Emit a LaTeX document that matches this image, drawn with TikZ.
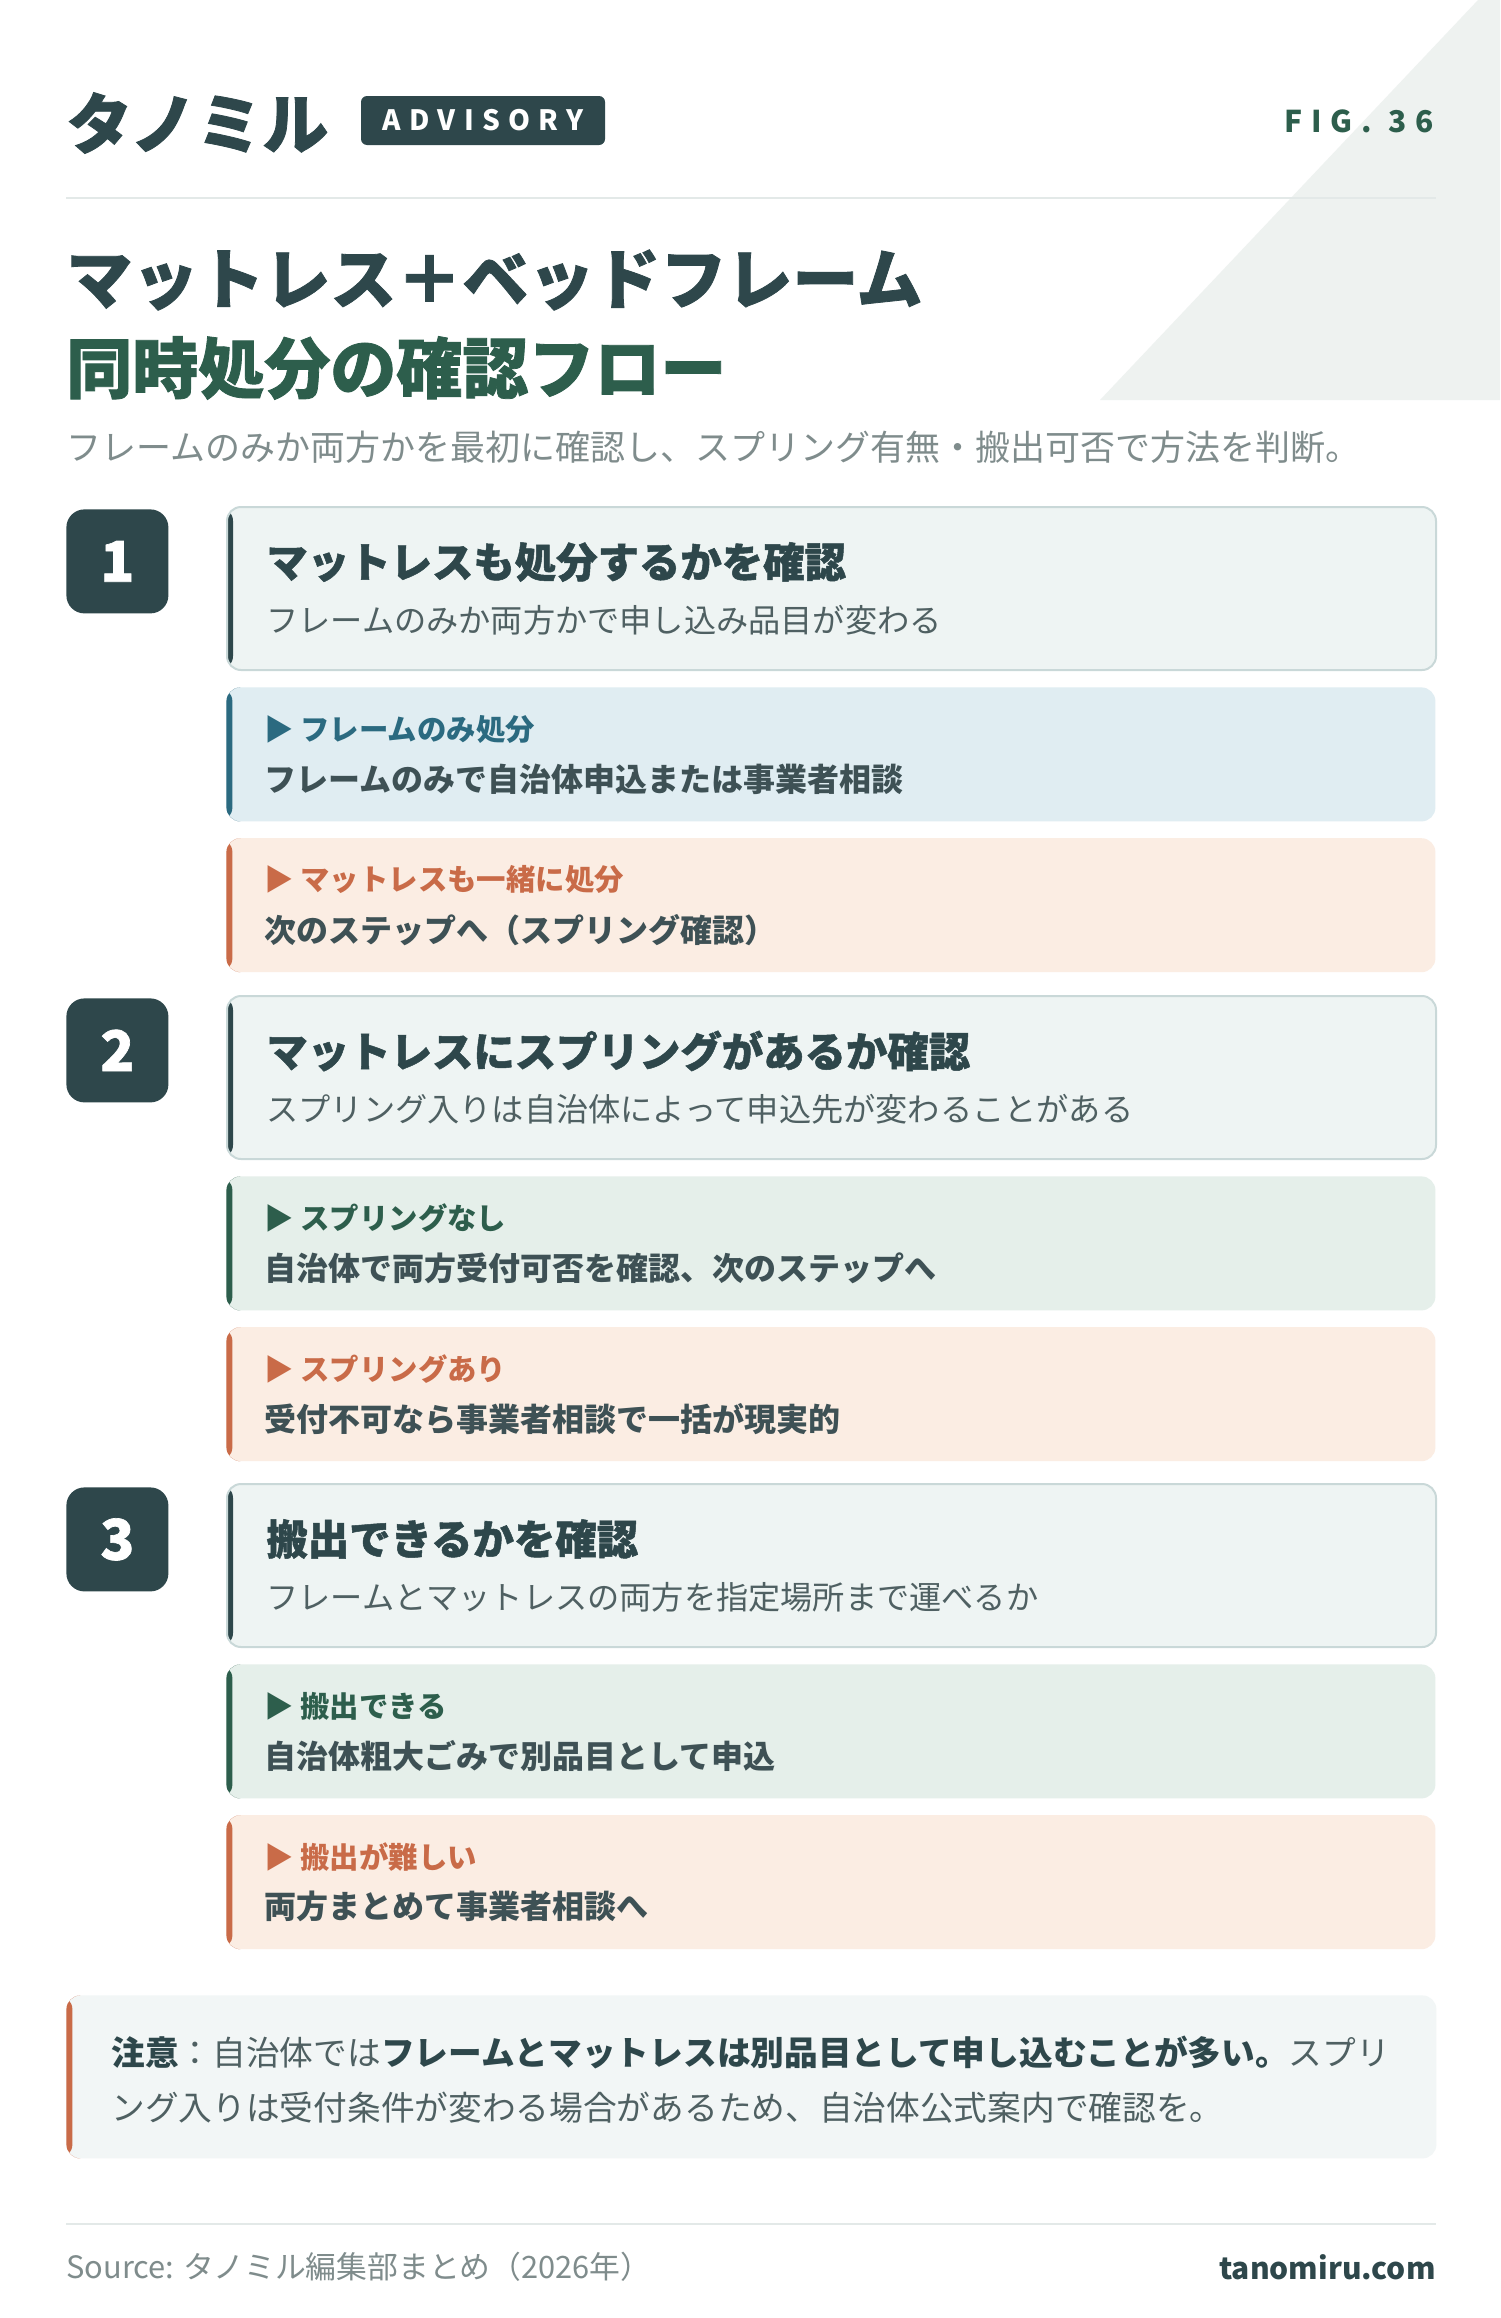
\documentclass[tikz,border=0pt]{standalone}
\usepackage{fontspec}
\setmainfont{Noto Sans CJK JP}
\newfontfamily\heavyfont{Noto Sans CJK JP}[BoldFeatures={FakeBold=1.2}]
\usetikzlibrary{positioning}

\definecolor{slate}{HTML}{2E474B}
\definecolor{forest}{HTML}{2D5E4C}
\definecolor{mist}{HTML}{7F8C8C}
\definecolor{ink}{HTML}{3E5155}
\definecolor{inkmid}{HTML}{4F6062}
\definecolor{cardbg}{HTML}{EEF4F3}
\definecolor{cardline}{HTML}{C9D8D8}
\definecolor{bluebg}{HTML}{E0EDF2}
\definecolor{blueacc}{HTML}{2B6A80}
\definecolor{greenbg}{HTML}{E5EFEA}
\definecolor{orangebg}{HTML}{FBEDE3}
\definecolor{orangeacc}{HTML}{C96B48}
\definecolor{notebg}{HTML}{F2F6F6}
\definecolor{tribg}{HTML}{EEF2F0}
\definecolor{rulecol}{HTML}{E3E9E8}

\begin{document}
\begin{tikzpicture}[x=0.5pt, y=-0.5pt,
  accent/.style={path picture={\fill[#1] (path picture bounding box.north west) rectangle ([xshift=3pt]path picture bounding box.south west);}}]
				\tikzstyle{card} = [draw=cardline, line width=1pt, fill=cardbg, rounded corners=7pt, minimum width=604.5pt, minimum height=81.5pt, anchor=north west, inner sep=0pt, accent=slate]
				\tikzstyle{subbox} = [rounded corners=7pt, minimum width=604.5pt, minimum height=67pt, inner sep=0pt]
				\tikzstyle{badge} = [fill=slate, rounded corners=9pt, minimum width=51pt, minimum height=52pt, anchor=north west, inner sep=0pt, text=white, font=\fontsize{28}{33}\heavyfont\bfseries]
				\tikzstyle{ctitle} = [anchor=west, inner sep=0pt, text=slate, font=\fontsize{20.7}{25}\heavyfont\bfseries]
				\tikzstyle{csub} = [anchor=west, inner sep=0pt, text=inkmid, font=\fontsize{16.1}{19}\selectfont]
				\tikzstyle{slabel} = [anchor=west, inner sep=0pt, font=\fontsize{14.7}{17}\selectfont\bfseries]
				\tikzstyle{stext} = [anchor=west, inner sep=0pt, text=ink, font=\fontsize{16}{19}\selectfont\bfseries]
				\tikzstyle{plain} = [anchor=west, inner sep=0pt]
				
				\useasboundingbox[fill=white] (0,0) rectangle (1500,2318);
				\fill[tribg] (1100,400) -- (1478,0) -- (1500,0) -- (1500,400) -- cycle;
				
				% header
				\node[plain, text=slate, font=\fontsize{33}{39}\heavyfont\bfseries] (logo) at (66,123) {タノミル};
				\node[fill=slate, rounded corners=3pt, minimum width=122pt, minimum height=24.5pt, inner sep=0pt, text=white,
				      font=\fontsize{14}{17}\selectfont\bfseries\addfontfeatures{LetterSpace=30}] (adv) at (483,120.5) {ADVISORY};
				\node[anchor=east, inner sep=0pt, text=forest, font=\fontsize{15}{18}\selectfont\bfseries\addfontfeatures{LetterSpace=30}] (fig) at (1434,121) {FIG. 36};
				\draw[rulecol, line width=1pt] (66,198) -- (1436,198);
				
				\node[plain, text=slate, font=\fontsize{33}{40}\heavyfont\bfseries] (t1) at (66,280) {マットレス＋ベッドフレーム};
				\node[plain, text=forest, font=\fontsize{33}{40}\heavyfont\bfseries] (t2) at (66,368) {同時処分の確認フロー};
				\node[plain, text=mist, font=\fontsize{17.5}{21}\selectfont] (lead) at (66,447) {フレームのみか両方かを最初に確認し、スプリング有無・搬出可否で方法を判断。};
				
				% step 1
				\node[badge] (b1) at (66,509) {1};
				\node[card] (c1) at (226,506) {};
				\node[ctitle] (c1t) at ([xshift=20pt, yshift=-28pt]c1.north west) {マットレスも処分するかを確認};
				\node[csub] (c1s) at ([xshift=20pt, yshift=-57pt]c1.north west) {フレームのみか両方かで申し込み品目が変わる};
				\node[subbox, fill=bluebg, accent=blueacc, below=8pt of c1.south west, anchor=north west] (s1a) {};
				\node[slabel, text=blueacc] (s1al) at ([xshift=19pt, yshift=-21pt]s1a.north west) {▶ フレームのみ処分};
				\node[stext] (s1at) at ([xshift=19pt, yshift=-46pt]s1a.north west) {フレームのみで自治体申込または事業者相談};
				\node[subbox, fill=orangebg, accent=orangeacc, below=8pt of s1a.south west, anchor=north west] (s1b) {};
				\node[slabel, text=orangeacc] (s1bl) at ([xshift=19pt, yshift=-21pt]s1b.north west) {▶ マットレスも一緒に処分};
				\node[stext] (s1bt) at ([xshift=19pt, yshift=-46pt]s1b.north west) {次のステップへ（スプリング確認）};
				
				% step 2
				\node[badge] (b2) at (66,998) {2};
				\node[card] (c2) at (226,995) {};
				\node[ctitle] (c2t) at ([xshift=20pt, yshift=-28pt]c2.north west) {マットレスにスプリングがあるか確認};
				\node[csub] (c2s) at ([xshift=20pt, yshift=-57pt]c2.north west) {スプリング入りは自治体によって申込先が変わることがある};
				\node[subbox, fill=greenbg, accent=forest, below=8pt of c2.south west, anchor=north west] (s2a) {};
				\node[slabel, text=forest] (s2al) at ([xshift=19pt, yshift=-21pt]s2a.north west) {▶ スプリングなし};
				\node[stext] (s2at) at ([xshift=19pt, yshift=-46pt]s2a.north west) {自治体で両方受付可否を確認、次のステップへ};
				\node[subbox, fill=orangebg, accent=orangeacc, below=8pt of s2a.south west, anchor=north west] (s2b) {};
				\node[slabel, text=orangeacc] (s2bl) at ([xshift=19pt, yshift=-21pt]s2b.north west) {▶ スプリングあり};
				\node[stext] (s2bt) at ([xshift=19pt, yshift=-46pt]s2b.north west) {受付不可なら事業者相談で一括が現実的};
				
				% step 3
				\node[badge] (b3) at (66,1487) {3};
				\node[card] (c3) at (226,1483) {};
				\node[ctitle] (c3t) at ([xshift=20pt, yshift=-28pt]c3.north west) {搬出できるかを確認};
				\node[csub] (c3s) at ([xshift=20pt, yshift=-57pt]c3.north west) {フレームとマットレスの両方を指定場所まで運べるか};
				\node[subbox, fill=greenbg, accent=forest, below=8pt of c3.south west, anchor=north west] (s3a) {};
				\node[slabel, text=forest] (s3al) at ([xshift=19pt, yshift=-21pt]s3a.north west) {▶ 搬出できる};
				\node[stext] (s3at) at ([xshift=19pt, yshift=-46pt]s3a.north west) {自治体粗大ごみで別品目として申込};
				\node[subbox, fill=orangebg, accent=orangeacc, below=8pt of s3a.south west, anchor=north west] (s3b) {};
				\node[slabel, text=orangeacc] (s3bl) at ([xshift=19pt, yshift=-21pt]s3b.north west) {▶ 搬出が難しい};
				\node[stext] (s3bt) at ([xshift=19pt, yshift=-46pt]s3b.north west) {両方まとめて事業者相談へ};
				
				% note
				\node[subbox, fill=notebg, accent=orangeacc, minimum width=685pt, minimum height=81.5pt, anchor=north west] (note) at (66,1995) {};
				\node[plain, align=left, text=inkmid, font=\fontsize{16.85}{27.5}\selectfont] (notet) at ([xshift=22.5pt, yshift=-1.5pt]note.west)
				  {{\color{slate}\bfseries 注意}：自治体では{\color{slate}\bfseries フレームとマットレスは別品目として申し込むことが多い。}スプリ\\ング入りは受付条件が変わる場合があるため、自治体公式案内で確認を。};
				
				% footer
				\draw[rulecol, line width=1pt] (66,2224) -- (1436,2224);
				\node[plain, text=mist, font=\fontsize{15.4}{18}\selectfont] (src) at (66,2267) {Source: タノミル編集部まとめ（2026年）};
				\node[anchor=east, inner sep=0pt, text=slate, font=\fontsize{15}{18}\selectfont\bfseries] (site) at (1436,2267) {tanomiru.com};
\end{tikzpicture}
\end{document}
